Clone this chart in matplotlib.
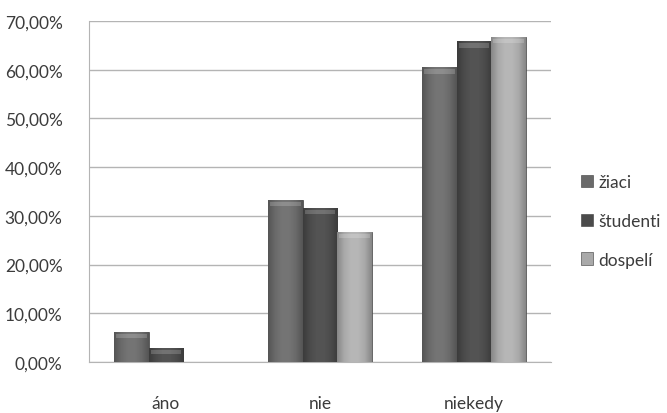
import numpy as np
import matplotlib
matplotlib.use("Agg")
import matplotlib.pyplot as plt
from matplotlib.ticker import FuncFormatter
from matplotlib.colors import LinearSegmentedColormap, to_rgb

categories = ["áno", "nie", "niekedy"]
series_names = ["žiaci", "študenti", "dospelí"]
ziaci = [6.2, 33.3, 60.5]
studenti = [2.9, 31.6, 65.8]
dospeli = [0.0, 26.7, 66.7]
yticks = [0, 10, 20, 30, 40, 50, 60, 70]

series_values = [ziaci, studenti, dospeli]
base_colors = ["#6a6a6a", "#4b4b4b", "#a9a9a9"]

plt.rcParams["font.family"] = ["Lato", "DejaVu Sans"]

fig = plt.figure(figsize=(6.67, 4.14), dpi=100)
ax = fig.add_axes([89 / 667, 1 - 363 / 414, 462 / 667, 341 / 414])

x = np.arange(len(categories))
width = 0.223
offsets = [-width, 0, width]


def shade_cmap(color):
    c = np.array(to_rgb(color))
    dark = c * 0.8
    light = np.clip(c * 1.05 + 0.02, 0, 1)
    return LinearSegmentedColormap.from_list("s", [dark, c, light, light, c, dark])


for vals, off, col in zip(series_values, offsets, base_colors):
    bars = ax.bar(x + off, vals, width, color=col, edgecolor="#3c3c3c",
                  linewidth=0.5, zorder=3)
    cmap = shade_cmap(col)
    grad = np.linspace(0, 1, 64).reshape(1, -1)
    for b in bars:
        h = b.get_height()
        if h <= 0:
            continue
        x0, w = b.get_x(), b.get_width()
        im = ax.imshow(grad, cmap=cmap, aspect="auto", extent=(x0, x0 + w, 0, h),
                       zorder=3.5, interpolation="bicubic")
        im.set_clip_path(b)
        # bevelled top cap
        cap = min(1.3, h * 0.4)
        ax.fill_between([x0 + w * 0.05, x0 + w * 0.95], h - cap, h - cap * 0.3,
                        color="white", alpha=0.18, lw=0, zorder=3.8)

ax.set_xlim(-0.5, 2.5)
ax.set_ylim(0, 70)
ax.set_yticks(yticks)
ax.yaxis.set_major_formatter(FuncFormatter(lambda v, p: f"{v:.2f}".replace(".", ",") + "%"))
ax.set_xticks(x)
ax.set_xticklabels(categories)

ax.grid(axis="y", color="#b4b4b4", linewidth=1.0, zorder=0)
ax.set_axisbelow(True)
for side in ["top", "right"]:
    ax.spines[side].set_visible(False)
ax.spines["left"].set_color("#b4b4b4")
ax.spines["bottom"].set_color("#b4b4b4")
ax.tick_params(axis="y", length=0, pad=19, labelsize=12.5, labelcolor="#3c3c3c")
ax.tick_params(axis="x", length=0, pad=24, labelsize=12.5, labelcolor="#3c3c3c")

handles = [plt.Rectangle((0, 0), 1, 1, facecolor=c, edgecolor="#3a3a3a", lw=0.4) for c in base_colors]
fig.legend(handles, series_names, loc="center left", bbox_to_anchor=(574 / 667, 1 - 222 / 414),
           frameon=False, fontsize=12.5, handlelength=0.7, handleheight=0.7, handletextpad=0.3,
           labelspacing=1.3, labelcolor="#3c3c3c", borderaxespad=0)

fig.savefig("out.png", dpi=100)
